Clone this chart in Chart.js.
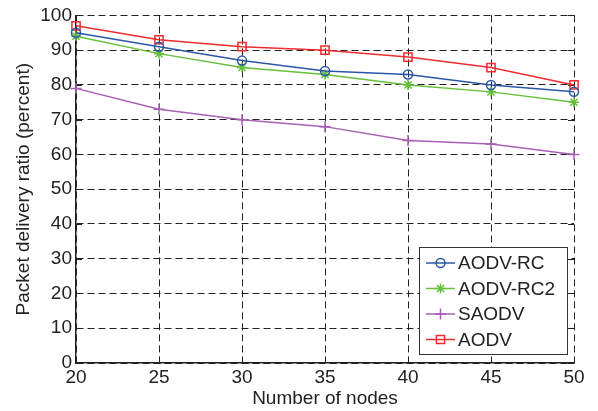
<!DOCTYPE html>
<html>
<head>
<meta charset="utf-8">
<script src="https://cdn.jsdelivr.net/npm/chart.js@4.4.1/dist/chart.umd.min.js"></script>
<style>
  html, body { margin: 0; padding: 0; background: #fff; }
  #wrap { width: 598px; height: 411px; position: relative; }
</style>
</head>
<body>
<div id="wrap"><canvas id="c" width="598" height="411"></canvas></div>
<script>
const nodes = [20, 25, 30, 35, 40, 45, 50];
const aodvRc  = [95, 91, 87, 84, 83, 80, 78];
const aodvRc2 = [94, 89, 85, 83, 80, 78, 75];
const saodv   = [79, 73, 70, 68, 64, 63, 60];
const aodv    = [97, 93, 91, 90, 88, 85, 80];
const seriesNames = ['AODV-RC', 'AODV-RC2', 'SAODV', 'AODV'];
const yTicks = [0, 10, 20, 30, 40, 50, 60, 70, 80, 90, 100];
const xTicks = nodes;

const FONT = 'Liberation Sans, Arial, Helvetica, sans-serif';
const FS = 19;
const TXT = '#222';

function pts(vals) { return nodes.map((n, i) => ({ x: n, y: vals[i] })); }

const styles = [
  { color: '#2b56a8', pointStyle: 'circle', r: 4.5 },
  { color: '#66c03a', pointStyle: 'star', r: 5 },
  { color: '#a85fb4', pointStyle: 'cross', r: 5.5 },
  { color: '#f02c2c', pointStyle: 'rect', r: 5.8 }
];
const seriesData = [aodvRc, aodvRc2, saodv, aodv];

const datasets = seriesData.map((vals, i) => ({
  label: seriesNames[i],
  data: pts(vals),
  borderColor: styles[i].color,
  backgroundColor: 'rgba(0,0,0,0)',
  borderWidth: 1.5,
  pointStyle: styles[i].pointStyle,
  pointRadius: styles[i].r,
  pointHoverRadius: styles[i].r,
  pointBorderColor: styles[i].color,
  pointBackgroundColor: 'rgba(0,0,0,0)',
  pointBorderWidth: 1.5,
  tension: 0,
  fill: false,
  clip: false
}));

function drawMarker(ctx, style, r, x, y) {
  if (Chart.helpers && Chart.helpers.drawPoint) {
    Chart.helpers.drawPoint(ctx, { pointStyle: style, radius: r, rotation: 0, borderWidth: 1.5 }, x, y);
  }
}

const innerTicks = {
  id: 'innerTicks',
  beforeDatasetsDraw(chart) {
    const { ctx, chartArea: a, scales } = chart;
    const L = 6;
    ctx.save();
    ctx.strokeStyle = '#222';
    ctx.lineWidth = 1;
    ctx.setLineDash([]);
    ctx.beginPath();
    yTicks.forEach(v => {
      const y = Math.round(scales.y.getPixelForValue(v)) + 0.5;
      ctx.moveTo(a.left, y); ctx.lineTo(a.left + L, y);
      ctx.moveTo(a.right, y); ctx.lineTo(a.right - L, y);
    });
    xTicks.forEach(v => {
      const x = Math.round(scales.x.getPixelForValue(v)) + 0.5;
      ctx.moveTo(x, a.bottom); ctx.lineTo(x, a.bottom - L);
      ctx.moveTo(x, a.top); ctx.lineTo(x, a.top + L);
    });
    ctx.stroke();
    ctx.restore();
  }
};

const boxLegend = {
  id: 'boxLegend',
  afterDraw(chart) {
    const { ctx } = chart;
    const bx = 419.5, by = 247.5, bw = 148, bh = 107;
    ctx.save();
    ctx.fillStyle = '#fff';
    ctx.fillRect(bx, by, bw, bh);
    ctx.strokeStyle = '#333';
    ctx.lineWidth = 1;
    ctx.setLineDash([]);
    ctx.strokeRect(bx, by, bw, bh);
    const rowY = [263, 288.5, 314, 339.5];
    ctx.font = FS + 'px ' + FONT;
    ctx.textBaseline = 'middle';
    ctx.textAlign = 'left';
    chart.data.datasets.forEach((ds, i) => {
      const y = rowY[i];
      ctx.strokeStyle = ds.borderColor;
      ctx.lineWidth = 1.5;
      ctx.beginPath();
      ctx.moveTo(426, y); ctx.lineTo(455, y);
      ctx.stroke();
      ctx.strokeStyle = ds.borderColor;
      ctx.fillStyle = 'rgba(0,0,0,0)';
      drawMarker(ctx, ds.pointStyle, ds.pointRadius, 440.5, y);
      ctx.fillStyle = TXT;
      ctx.fillText(ds.label, 458, y + 1);
    });
    ctx.restore();
  }
};

new Chart(document.getElementById('c'), {
  type: 'line',
  data: { datasets },
  options: {
    responsive: false,
    animation: false,
    devicePixelRatio: 1,
    layout: { padding: { top: 14, right: 24, bottom: 0, left: 0 } },
    plugins: { legend: { display: false }, tooltip: { enabled: false } },
    scales: {
      x: {
        type: 'linear',
        min: 20, max: 50,
        afterBuildTicks(scale) { scale.ticks = xTicks.map(v => ({ value: v })); },
        afterFit(scale) { scale.height = 48; },
        grid: { color: '#222', lineWidth: 1, drawTicks: false },
        border: { display: true, color: '#222', width: 1.5, dash: [7, 4] },
        ticks: { color: TXT, font: { family: FONT, size: FS }, padding: 3, maxRotation: 0 },
        title: { display: true, text: 'Number of nodes', color: TXT, font: { family: FONT, size: FS }, padding: { top: 0, bottom: 1 } }
      },
      y: {
        min: 0, max: 100,
        afterBuildTicks(scale) { scale.ticks = yTicks.map(v => ({ value: v })); },
        afterFit(scale) { scale.width = 76; },
        grid: { color: '#222', lineWidth: 1, drawTicks: false },
        border: { display: true, color: '#222', width: 1.5, dash: [7, 4] },
        ticks: { color: TXT, font: { family: FONT, size: FS }, padding: 4 },
        title: { display: true, text: 'Packet delivery ratio (percent)', color: TXT, font: { family: FONT, size: FS }, padding: { top: 12, bottom: 0 } }
      }
    }
  },
  plugins: [innerTicks, boxLegend]
});
</script>
</body>
</html>
